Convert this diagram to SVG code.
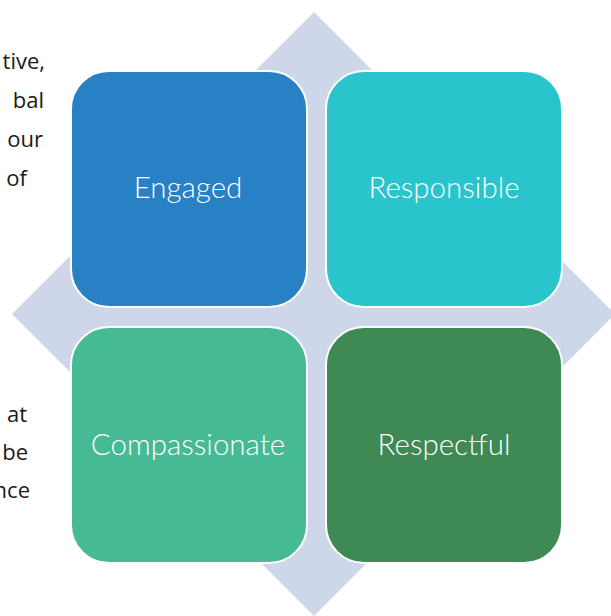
<svg xmlns="http://www.w3.org/2000/svg" width="611" height="616" viewBox="0 0 611 616">
<style>
.box{stroke:#ffffff;stroke-width:2}
.lbl{font-family:Lato,"Open Sans","Noto Sans",sans-serif;font-weight:300;font-size:29.5px;fill:#ffffff;text-anchor:middle}
.side{font-family:"Open Sans","Liberation Sans",sans-serif;font-size:22px;fill:#1a1a1a;text-anchor:end}
</style>
<rect width="611" height="616" fill="#ffffff"/>
<g id="side-text">
<text class="side" x="45" y="69">tive,</text>
<text class="side" x="44" y="108">bal</text>
<text class="side" x="43" y="147">our</text>
<text class="side" x="27" y="186">of</text>
<text class="side" x="27" y="422">at</text>
<text class="side" x="28" y="460">be</text>
<text class="side" x="30" y="498">nce</text>
</g>
<g id="diamond">
<polygon points="314,12 615,314 314,616 12,314" fill="#CDD7E9"/>
</g>
<g id="engaged">
<rect class="box" x="71" y="71" width="236" height="236" rx="38" fill="#2880C5"/>
<text class="lbl" x="188" y="198">Engaged</text>
</g>
<g id="responsible">
<rect class="box" x="326" y="71" width="236" height="236" rx="38" fill="#29C4CC"/>
<text class="lbl" x="444" y="198">Responsible</text>
</g>
<g id="compassionate">
<rect class="box" x="71" y="327" width="236" height="236" rx="38" fill="#45BA94"/>
<text class="lbl" x="188" y="455">Compassionate</text>
</g>
<g id="respectful">
<rect class="box" x="326" y="327" width="236" height="236" rx="38" fill="#3E8954"/>
<text class="lbl" x="444" y="455">Respectful</text>
</g>
<g id="connectors"></g>
</svg>
